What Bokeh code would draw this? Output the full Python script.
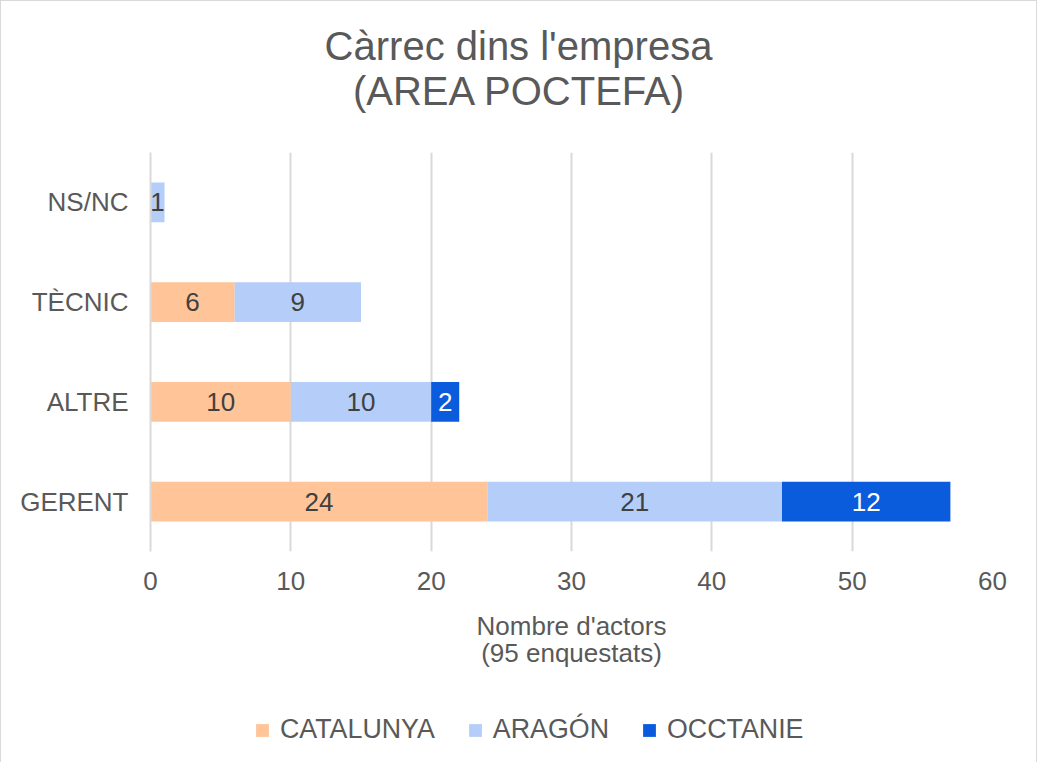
import numpy as np
from bokeh.plotting import figure
from bokeh.layouts import column
from bokeh.models import (ColumnDataSource, FactorRange, Range1d, Legend, LegendItem,
                          FixedTicker, Div)
from bokeh.core.properties import value
from bokeh.embed import file_html
from bokeh.resources import INLINE

categories = ["GERENT", "ALTRE", "TÈCNIC", "NS/NC"]
series = ["CATALUNYA", "ARAGÓN", "OCCTANIE"]
catalunya = [24, 10, 6, 0]
aragon = [21, 10, 9, 1]
occtanie = [12, 2, 0, 0]
colors = ["#FFC599", "#B4CEF9", "#0B5CDD"]
label_colors = ["#404040", "#404040", "#FFFFFF"]
x_ticks = [0, 10, 20, 30, 40, 50, 60]
title_lines = ["Càrrec dins l'empresa", "(AREA POCTEFA)"]
x_label = "Nombre d'actors\n(95 enquestats)"

FONT = "Liberation Sans"
GRAY = "#595959"
W = 1035

# ---- title (HTML text, lines centred individually)
title = Div(text=(f'<div style="padding-top:23px;text-align:center;font-family:\'{FONT}\';'
                  f'font-size:40px;line-height:44.6px;color:{GRAY};width:{W}px;">'
                  f'{title_lines[0]}<br>{title_lines[1]}</div>'),
            width=W, height=130, margin=(0, 0, 0, 0))

# ---- main chart
p = figure(width=W, height=555,
           y_range=FactorRange(*categories), x_range=Range1d(0, 60),
           output_backend="svg", toolbar_location=None,
           min_border_left=149, min_border_right=44,
           min_border_top=21, min_border_bottom=135)
p.outline_line_color = None

src = ColumnDataSource(dict(cat=categories, CATALUNYA=catalunya, **{"ARAGÓN": aragon}, OCCTANIE=occtanie))
renderers = p.hbar_stack(series, y="cat", height=0.4, fill_color=colors, line_color=None, source=src)

vals = [catalunya, aragon, occtanie]
lefts = np.cumsum(np.vstack([np.zeros(len(categories))] + [np.array(v) for v in vals[:-1]]), axis=0)
for i, s in enumerate(series):
    xs, ys, ts = [], [], []
    for j, c in enumerate(categories):
        v = vals[i][j]
        if v > 0:
            xs.append(float(lefts[i][j]) + v / 2)
            ys.append(c)
            ts.append(str(v))
    p.text(x=xs, y=ys, text=ts, text_align="center", text_baseline="middle",
           text_color=label_colors[i], text_font=value(FONT), text_font_size="26px")

p.xaxis.ticker = FixedTicker(ticks=x_ticks)
p.xaxis.axis_line_color = None
p.xaxis.major_tick_line_color = None
p.xaxis.minor_tick_line_color = None
p.xaxis.major_tick_out = 0
p.xaxis.major_label_standoff = 20
p.xaxis.major_label_text_font = FONT
p.xaxis.major_label_text_font_size = "26px"
p.xaxis.major_label_text_color = GRAY
p.xaxis.axis_label = x_label
p.xaxis.axis_label_text_font = FONT
p.xaxis.axis_label_text_font_size = "26px"
p.xaxis.axis_label_text_font_style = "normal"
p.xaxis.axis_label_text_color = GRAY
p.xaxis.axis_label_text_line_height = 0.92
p.xaxis.axis_label_standoff = 18

p.yaxis.axis_line_color = "#d9d9d9"
p.yaxis.axis_line_width = 2
p.yaxis.major_tick_line_color = None
p.yaxis.minor_tick_line_color = None
p.yaxis.major_tick_out = 0
p.yaxis.major_label_standoff = 22
p.yaxis.major_label_text_font = FONT
p.yaxis.major_label_text_font_size = "26px"
p.yaxis.major_label_text_color = GRAY

p.xgrid.grid_line_color = "#d9d9d9"
p.xgrid.grid_line_width = 2
p.ygrid.grid_line_color = None

# ---- legend strip: hidden copies of the series give the legend its colour keys
leg = figure(width=W, height=76, x_range=Range1d(0, 60), y_range=FactorRange(*categories),
             output_backend="svg", toolbar_location=None,
             x_axis_location=None, y_axis_location=None, min_border=0)
leg.grid.visible = False
leg.outline_line_color = None
keys = leg.hbar_stack(series, y="cat", height=0.4, fill_color=colors, line_color=None, source=src)
for k in keys:
    k.visible = False
legend = Legend(items=[LegendItem(label=s, renderers=[k]) for s, k in zip(series, keys)],
                orientation="horizontal", location=(104, 17),
                glyph_width=16, glyph_height=16, label_standoff=10, spacing=32,
                padding=0, margin=0, border_line_color=None, background_fill_alpha=0,
                inactive_fill_alpha=0,
                label_text_font=FONT, label_text_font_size="26.8px", label_text_color=GRAY)
leg.add_layout(legend, "center")

layout = column(title, p, leg, spacing=0,
                styles={"border-left": "1px solid #d9d9d9", "border-top": "1px solid #d9d9d9",
                        "border-right": "1px solid #d9d9d9"})

open("out.html", "w").write(file_html(layout, INLINE))
